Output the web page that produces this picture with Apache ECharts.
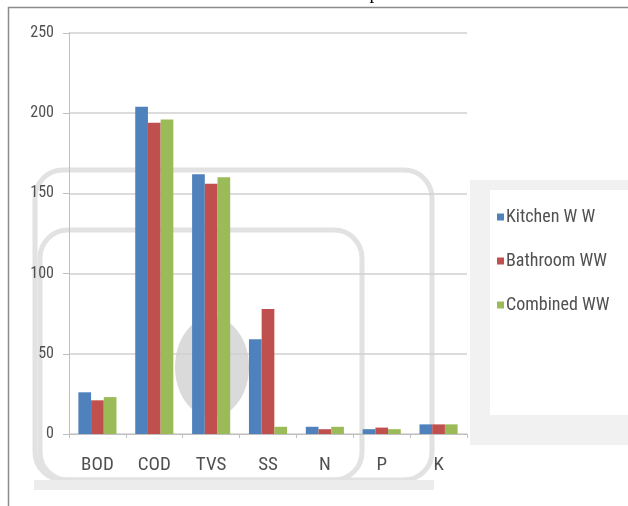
<!DOCTYPE html>
<html><head><meta charset="utf-8">
<script src="https://cdn.jsdelivr.net/npm/echarts@6/dist/echarts.min.js"></script>
<style>html,body{margin:0;padding:0;background:#fff}#c{width:628px;height:506px}</style>
</head><body><div id="c"></div>
<script>
const categories = ['BOD','COD','TVS','SS','N','P','K'];
const kitchen = [26, 204, 162, 59, 4.5, 3, 6];
const bathroom = [21, 194, 156, 78, 3, 4, 6];
const combined = [23, 196, 160, 4.5, 4.5, 3, 6];
const yTicks = [0, 50, 100, 150, 200, 250];
const seriesNames = ['Kitchen W W', 'Bathroom WW', 'Combined WW'];
const colors = ['#4F81BD', '#C0504D', '#9BBB59'];

const chart = echarts.init(document.getElementById('c'));
const font = "'Liberation Sans Narrow','Roboto Condensed','Liberation Sans',sans-serif";
chart.setOption({
  animation: false,
  title: {
    text: 'Waste Water Sample', left: 'center', top: -20,
    textStyle: {fontFamily: "'Liberation Serif','DejaVu Serif',serif", fontSize: 19, fontWeight: 'normal', color: '#000'}
  },
  graphic: [
    {type: 'rect', z: -5, shape: {x: 470, y: 180, width: 160, height: 265}, style: {fill: '#f1f1f1'}},
    {type: 'rect', z: -4, shape: {x: 490, y: 190, width: 138, height: 225}, style: {fill: '#ffffff'}},
    {type: 'rect', z: -3, shape: {x: 35, y: 170, width: 397, height: 310, r: 28}, style: {fill: 'none', stroke: '#e2e2e2', lineWidth: 5}},
    {type: 'rect', z: -3, shape: {x: 40, y: 230, width: 322, height: 250, r: 28}, style: {fill: 'none', stroke: '#e2e2e2', lineWidth: 5}},
    {type: 'rect', z: -3, shape: {x: 34, y: 480, width: 400, height: 10}, style: {fill: '#ececec'}},
    {type: 'ellipse', z: -3, shape: {cx: 212, cy: 367, rx: 37, ry: 50}, style: {fill: '#dadada'}},
    {type: 'rect', z: 10, shape: {x: 8.5, y: 7.5, width: 640, height: 520}, style: {fill: 'none', stroke: '#8c8c8c', lineWidth: 1.5}}
  ],
  grid: {left: 69, right: 161, top: 33, bottom: 72, containLabel: false},
  legend: {
    orient: 'vertical', left: 492, top: 203, itemGap: 26, itemWidth: 7, itemHeight: 7,
    icon: 'rect',
    textStyle: {fontFamily: font, fontSize: 18, color: '#505050', padding: [0,0,0,-3]},
    data: seriesNames
  },
  xAxis: {
    type: 'category', data: categories,
    axisLine: {lineStyle: {color: '#bfbfbf', width: 1}},
    axisTick: {show: true, length: 4, lineStyle: {color: '#bfbfbf'}},
    axisLabel: {fontFamily: font, fontSize: 19, color: '#505050', margin: 22}
  },
  yAxis: {
    type: 'value', min: 0, max: 250, interval: 50,
    axisLine: {show: true, lineStyle: {color: '#bfbfbf'}},
    axisTick: {show: true, length: 6, lineStyle: {color: '#bfbfbf'}},
    axisLabel: {fontFamily: font, fontSize: 16, color: '#505050', margin: 15,
      formatter: v => yTicks.includes(v) ? String(v) : ''},
    splitLine: {lineStyle: {color: '#d0d0d0', width: 1.5}}
  },
  series: [kitchen, bathroom, combined].map((d, i) => ({
    name: seriesNames[i], type: 'bar', data: d, barGap: '0%', barCategoryGap: '33%',
    itemStyle: {color: colors[i]}
  }))
});
</script></body></html>
